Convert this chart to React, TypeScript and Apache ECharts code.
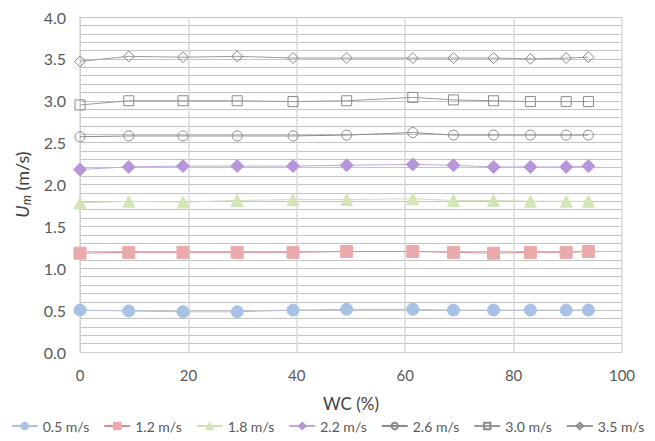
import React, { useEffect, useRef } from "react";
import * as echarts from "echarts";

// Water cut (%) at each measurement point
const wc = [0, 9, 19, 29, 39.3, 49.2, 61.4, 68.9, 76.3, 83.1, 89.7, 93.8];

// Mixture velocity Um (m/s) per nominal velocity set
const u05 = [0.5, 0.49, 0.48, 0.48, 0.5, 0.51, 0.51, 0.5, 0.5, 0.5, 0.5, 0.5];
const u12 = [1.18, 1.19, 1.19, 1.19, 1.19, 1.2, 1.2, 1.19, 1.18, 1.19, 1.19, 1.2];
const u18 = [1.78, 1.8, 1.79, 1.81, 1.82, 1.82, 1.83, 1.81, 1.81, 1.8, 1.8, 1.8];
const u22 = [2.18, 2.21, 2.22, 2.22, 2.22, 2.23, 2.24, 2.23, 2.21, 2.21, 2.21, 2.22];
const u26 = [2.57, 2.58, 2.58, 2.58, 2.58, 2.59, 2.62, 2.59, 2.59, 2.59, 2.59, 2.59];
const u30 = [2.95, 3.0, 3.0, 3.0, 2.99, 3.0, 3.04, 3.01, 3.0, 2.99, 2.99, 2.99];
const u35 = [3.47, 3.53, 3.52, 3.53, 3.51, 3.51, 3.51, 3.51, 3.51, 3.5, 3.51, 3.52];

const seriesNames = ["0.5 m/s", "1.2 m/s", "1.8 m/s", "2.2 m/s", "2.6 m/s", "3.0 m/s", "3.5 m/s"];
const seriesValues = [u05, u12, u18, u22, u26, u30, u35];

const FONT = "Lato, 'Open Sans', 'Liberation Sans', sans-serif";

type Style = {
  symbol: string;
  size: number;
  fill: string;
  border: string;
  line: string;
};

const styles: Style[] = [
  { symbol: "circle", size: 12, fill: "#a8c2e6", border: "#a8c2e6", line: "#a9c1e3" },
  { symbol: "rect", size: 12, fill: "#eaaaab", border: "#eaaaab", line: "#d88e8f" },
  { symbol: "triangle", size: 12, fill: "#d4e5b8", border: "#d4e5b8", line: "#cfe1b3" },
  { symbol: "diamond", size: 13, fill: "#b795d9", border: "#b795d9", line: "#c3a8df" },
  { symbol: "circle", size: 10, fill: "rgba(255,255,255,0)", border: "#8a8a8a", line: "#8a8a8a" },
  { symbol: "rect", size: 10, fill: "rgba(255,255,255,0)", border: "#8a8a8a", line: "#9a9a9a" },
  { symbol: "diamond", size: 11, fill: "rgba(255,255,255,0)", border: "#8a8a8a", line: "#9a9a9a" },
];

export default function App() {
  const ref = useRef<HTMLDivElement>(null);

  useEffect(() => {
    if (!ref.current) return;
    const chart = echarts.init(ref.current, undefined, { renderer: "svg" });

    const series = seriesValues.map((vals, i) => {
      const s = styles[i];
      return {
        name: seriesNames[i],
        type: "line",
        data: vals.map((v, j) => [wc[j], v]),
        symbol: s.symbol,
        symbolSize: s.size,
        showAllSymbol: true,
        lineStyle: { color: s.line, width: 1 },
        itemStyle: { color: s.fill, borderColor: s.border, borderWidth: 1 },
        z: 3,
      };
    });

    chart.setOption({
      animation: false,
      backgroundColor: "#ffffff",
      textStyle: { fontFamily: FONT },
      grid: { left: 80, right: 33, top: 17, bottom: 89, containLabel: false },
      legend: {
        bottom: 3,
        left: "center",
        itemGap: 14,
        itemWidth: 26,
        itemHeight: 8,
        textStyle: { fontFamily: FONT, fontSize: 14, color: "#595959" },
        data: seriesNames,
      },
      xAxis: {
        type: "value",
        min: 0,
        max: 100,
        interval: 20,
        name: "WC (%)",
        nameLocation: "middle",
        nameGap: 43,
        nameTextStyle: { fontFamily: FONT, fontSize: 17, color: "#404040" },
        axisLine: { show: true, lineStyle: { color: "#d0d0d0", width: 1 } },
        axisTick: { show: false },
        axisLabel: { fontFamily: FONT, fontSize: 15, color: "#595959", margin: 15 },
        splitLine: { show: true, lineStyle: { color: "#dadada", width: 1.5 } },
      },
      yAxis: {
        type: "value",
        min: 0,
        max: 4,
        interval: 0.5,
        name: "{u|U}{m|m} (m/s)",
        nameLocation: "middle",
        nameGap: 46,
        nameRotate: 90,
        nameTextStyle: {
          fontFamily: FONT,
          fontSize: 18,
          color: "#404040",
          rich: {
            u: { fontFamily: FONT, fontSize: 18, fontStyle: "italic", color: "#404040" },
            m: {
              fontFamily: FONT,
              fontSize: 13,
              fontStyle: "italic",
              color: "#404040",
              padding: [8, 0, 0, 0],
            },
          },
        },
        axisLine: { show: true, lineStyle: { color: "#d0d0d0", width: 1 } },
        axisTick: { show: false },
        axisLabel: {
          fontFamily: FONT,
          fontSize: 16,
          color: "#595959",
          margin: 14,
          formatter: (v: number) => v.toFixed(1),
        },
        splitLine: { show: true, lineStyle: { color: "#c4c4c4", width: 1.2 } },
        minorTick: { show: false, splitNumber: 5 },
        minorSplitLine: { show: true, lineStyle: { color: "#c4c4c4", width: 1.2 } },
      },
      series,
    });

    return () => chart.dispose();
  }, []);

  return (
    <div
      ref={ref}
      style={{ position: "fixed", left: 0, top: 0, width: 655, height: 441 }}
    />
  );
}
